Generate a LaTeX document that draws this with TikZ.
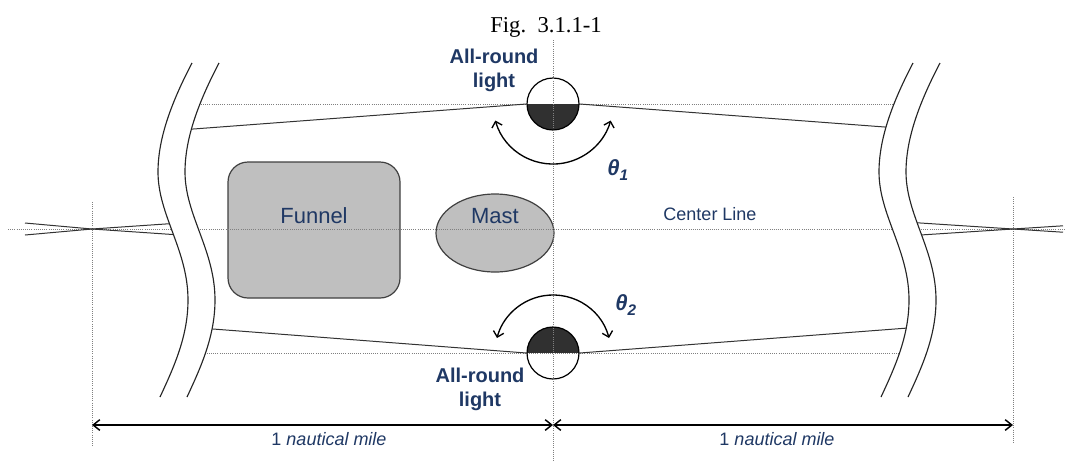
\documentclass[tikz,border=0pt]{standalone}
\usepackage{fontspec}
\setmainfont{Liberation Serif}
\setsansfont{Liberation Sans}
\usepackage{tikz}
\usepackage{xcolor}
\usetikzlibrary{arrows.meta, shapes.geometric}
\definecolor{navy}{HTML}{1F3864}
\definecolor{lamp}{HTML}{303030}
\definecolor{hull}{HTML}{BFBFBF}
\tikzset{
	guide/.style = {gray, densely dotted, line width = 0.6pt},
	ray/.style = {black!80, line width = 0.75pt},
	wave/.style = {black!85, line width = 0.85pt},
	part/.style = {draw = black!75, fill = hull, line width = 0.9pt, inner sep = 0pt},
	light/.style = {circle, draw, line width = 0.9pt, minimum size = 39pt, inner sep = 0pt},
	sweep/.style = {line width = 1pt, {Straight Barb[length = 4pt, width = 8pt]}-{Straight Barb[length = 4pt, width = 8pt]}},
	dim/.style = {line width = 1.1pt, {Straight Barb[length = 5pt, width = 8pt]}-{Straight Barb[length = 5pt, width = 8pt]}},
	lab/.style = {navy, inner sep = 0pt, font = \sffamily\fontsize{16.5}{19.8}\selectfont},
	small/.style = {navy, inner sep = 0pt, font = \sffamily\fontsize{13.5}{16}\selectfont},
	heavy/.style = {navy, inner sep = 0pt, align = center, font = \sffamily\bfseries\fontsize{15}{18}\selectfont},
	angle/.style = {navy, inner sep = 0pt, font = \sffamily\bfseries\itshape\fontsize{16.5}{19.8}\selectfont}
}
\newcommand{\sub}[1]{\raisebox{-3.75pt}{\fontsize{11.5}{12}\selectfont #1}}

\begin{document}
\begin{tikzpicture}[x = 0.75pt, y = 0.75pt]
			\useasboundingbox (0, 0) rectangle (1070, -462);
			\node[anchor = base, inner sep = 0pt, font = \rmfamily\fontsize{17}{20}\selectfont] (title) at (546, -32) {Fig.\ \ 3.1.1-1};
			\node[part, rounded corners = 15pt, minimum width = 129pt, minimum height = 102pt] (funnel) at (314, -230) {};
			\node[part, ellipse, minimum width = 88.5pt, minimum height = 58.5pt] (mast) at (495, -233) {};
			\node[lab, anchor = base] (funnellab) at (314, -223) {Funnel};
			\node[lab, anchor = base] (mastlab) at (495, -223) {Mast};
			\node[small, anchor = base] (centerlab) at (710, -220) {Center Line};
			\coordinate (far1) at (92, -229);
			\coordinate (far2) at (1013, -229);
			\coordinate (tl) at (180, -130);
			\coordinate (tr) at (898, -128);
			\coordinate (bl) at (200, -328);
			\coordinate (br) at (921, -327);
			\coordinate (d1) at (92, -425);
			\coordinate (dm) at (553, -425);
			\coordinate (d2) at (1013, -425);
			\draw[guide] (8, -229) -- (1065, -229);
			\draw[guide] (186, -104) -- (907, -104);
			\draw[guide] (194, -353) -- (914, -353);
			\draw[guide] (92, -202) -- (92, -447);
			\draw[guide] (1013, -197) -- (1013, -443);
			\draw[ray] (25, -223) -- (far1) -- (180, -235);
			\draw[ray] (25, -235) -- (far1) -- (180, -223);
			\draw[ray] (905, -222) -- (far2) -- (1063, -232.2);
			\draw[ray] (905, -236) -- (far2) -- (1063, -225.8);
			\node[light, path picture = {\fill[lamp] (path picture bounding box.west) rectangle (path picture bounding box.south east);}] (top) at (553, -104) {};
			\node[light, path picture = {\fill[lamp] (path picture bounding box.west) rectangle (path picture bounding box.north east);}] (bot) at (553, -353) {};
			\draw[ray] (top.west) -- (tl);
			\draw[ray] (top.east) -- (tr);
			\draw[ray] (bot.west) -- (bl);
			\draw[ray] (bot.east) -- (br);
			\foreach \s in {0, 721} {
			\fill[white, shift = {(\s, 0)}] (192, -63) .. controls (170, -105) and (158, -140) .. (158, -172) .. controls (158, -215) and (188, -250) .. (188, -300) .. controls (188, -335) and (175, -365) .. (160, -397) -- (187, -397) .. controls (202, -365) and (215, -335) .. (215, -300) .. controls (215, -250) and (185, -215) .. (185, -172) .. controls (185, -140) and (197, -105) .. (219, -63) -- cycle;
			\foreach \d in {0, 27}
			\draw[wave, shift = {(\s + \d, 0)}] (192, -63) .. controls (170, -105) and (158, -140) .. (158, -172) .. controls (158, -215) and (188, -250) .. (188, -300) .. controls (188, -335) and (175, -365) .. (160, -397);
			}
			\draw[guide] (553, -40) -- (553, -462);
			\draw[sweep] ([shift = {(196:60)}] top.center) arc[start angle = 196, end angle = 344, radius = 60];
			\draw[sweep] ([shift = {(15:58)}] bot.center) arc[start angle = 15, end angle = 165, radius = 58];
			\node[angle, anchor = base west] (theta1) at (607, -175) {θ\sub{1}};
			\node[angle, anchor = base west] (theta2) at (615, -310) {θ\sub{2}};
			\node[heavy] (toplab) at (494, -70) {All-round\\light};
			\node[heavy] (botlab) at (480, -389) {All-round\\light};
			\draw[dim] (d1) -- (dm);
			\draw[dim] (dm) -- (d2);
			\node[small, anchor = base] (mile1) at (329, -445) {1 \textit{nautical mile}};
			\node[small, anchor = base] (mile2) at (777, -445) {1 \textit{nautical mile}};
			\end{tikzpicture}
\end{document}
